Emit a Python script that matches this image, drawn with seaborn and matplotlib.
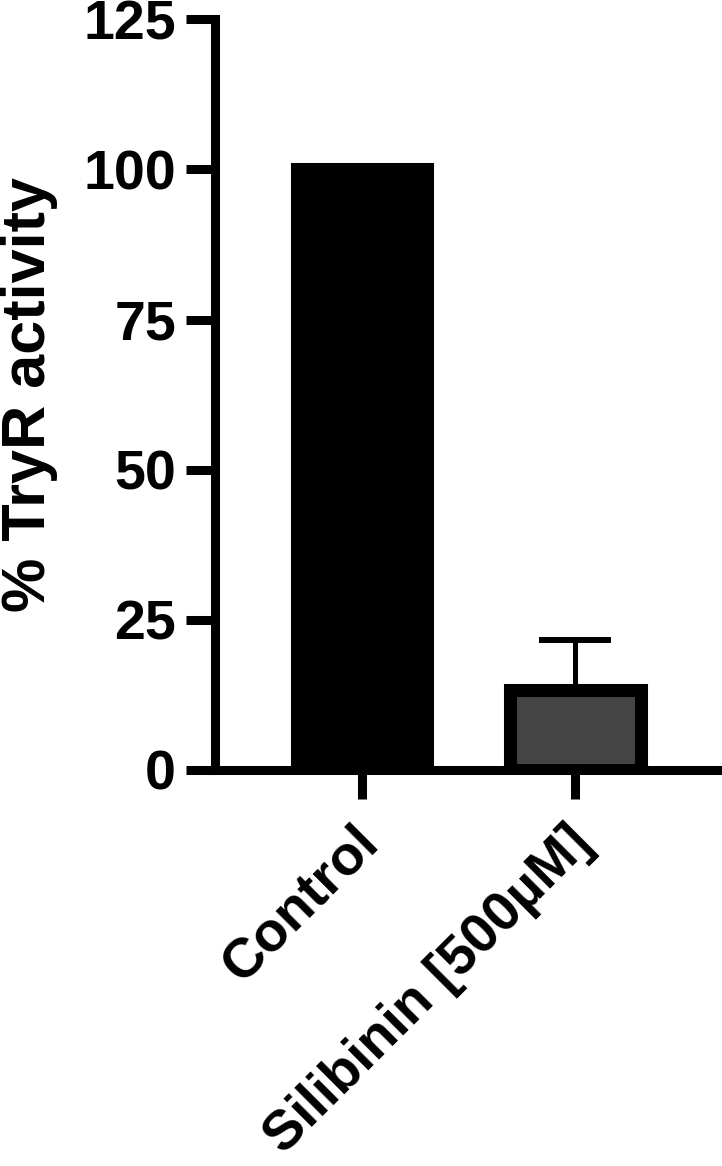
import matplotlib
matplotlib.use("Agg")
import matplotlib.pyplot as plt
import matplotlib.transforms as mtransforms
import seaborn as sns
import pandas as pd

categories = ["Control", "Silibinin [500µM]"]
values = [100.0, 13.3]
errors_up = [0.0, 8.35]
bar_colors = ["#000000", "#444444"]
y_ticks = [0, 25, 50, 75, 100, 125]
y_label = "% TryR activity"

sns.set_style("ticks")
plt.rcParams["font.family"] = ["Liberation Sans", "DejaVu Sans"]
plt.rcParams["font.weight"] = "bold"
plt.rcParams["text.color"] = "black"
plt.rcParams["axes.labelcolor"] = "black"
plt.rcParams["xtick.color"] = "black"
plt.rcParams["ytick.color"] = "black"

fig = plt.figure(figsize=(7.22, 11.66), dpi=100)
ax = fig.add_axes([0.2978, 0.340, 0.7022, 0.6433])

df = pd.DataFrame({"group": categories, "value": values})
sns.barplot(data=df, x="group", y="value", hue="group", palette=bar_colors,
            width=0.613, edgecolor="black", linewidth=9.4, legend=False,
            ax=ax, zorder=3)

pos = list(range(len(categories)))
ax.errorbar(pos[1:], values[1:], yerr=[[0.0], errors_up[1:]], fmt="none",
            ecolor="black", elinewidth=3.6, capsize=26, capthick=4.3, zorder=2)

ax.set_ylim(0, 125)
ax.set_xlim(-0.6885, 1.6862)
ax.set_yticks(y_ticks)
ax.set_yticklabels([str(t) for t in y_ticks], fontsize=40, fontweight="bold",
                   color="black")
ax.set_xticks(pos)
ax.set_xticklabels(categories, fontsize=40, fontweight="bold", rotation=45,
                   ha="right", va="top", rotation_mode="anchor", color="black")
ax.set_xlabel("")
ax.set_ylabel(y_label, fontsize=44, fontweight="bold", color="black")
ax.yaxis.set_label_coords(-0.31, 0.5)

for side in ["top", "right"]:
    ax.spines[side].set_visible(False)
for side in ["left", "bottom"]:
    ax.spines[side].set_linewidth(6.5)
    ax.spines[side].set_color("black")
    ax.spines[side].set_capstyle("projecting")
    ax.spines[side].set_zorder(5)

ax.tick_params(axis="both", width=6.5, length=21, color="black", pad=7)

offset = mtransforms.ScaledTranslation(-0.10, -0.08, fig.dpi_scale_trans)
for lab in ax.get_xticklabels():
    lab.set_transform(lab.get_transform() + offset)

fig.savefig("out.png", dpi=100)
